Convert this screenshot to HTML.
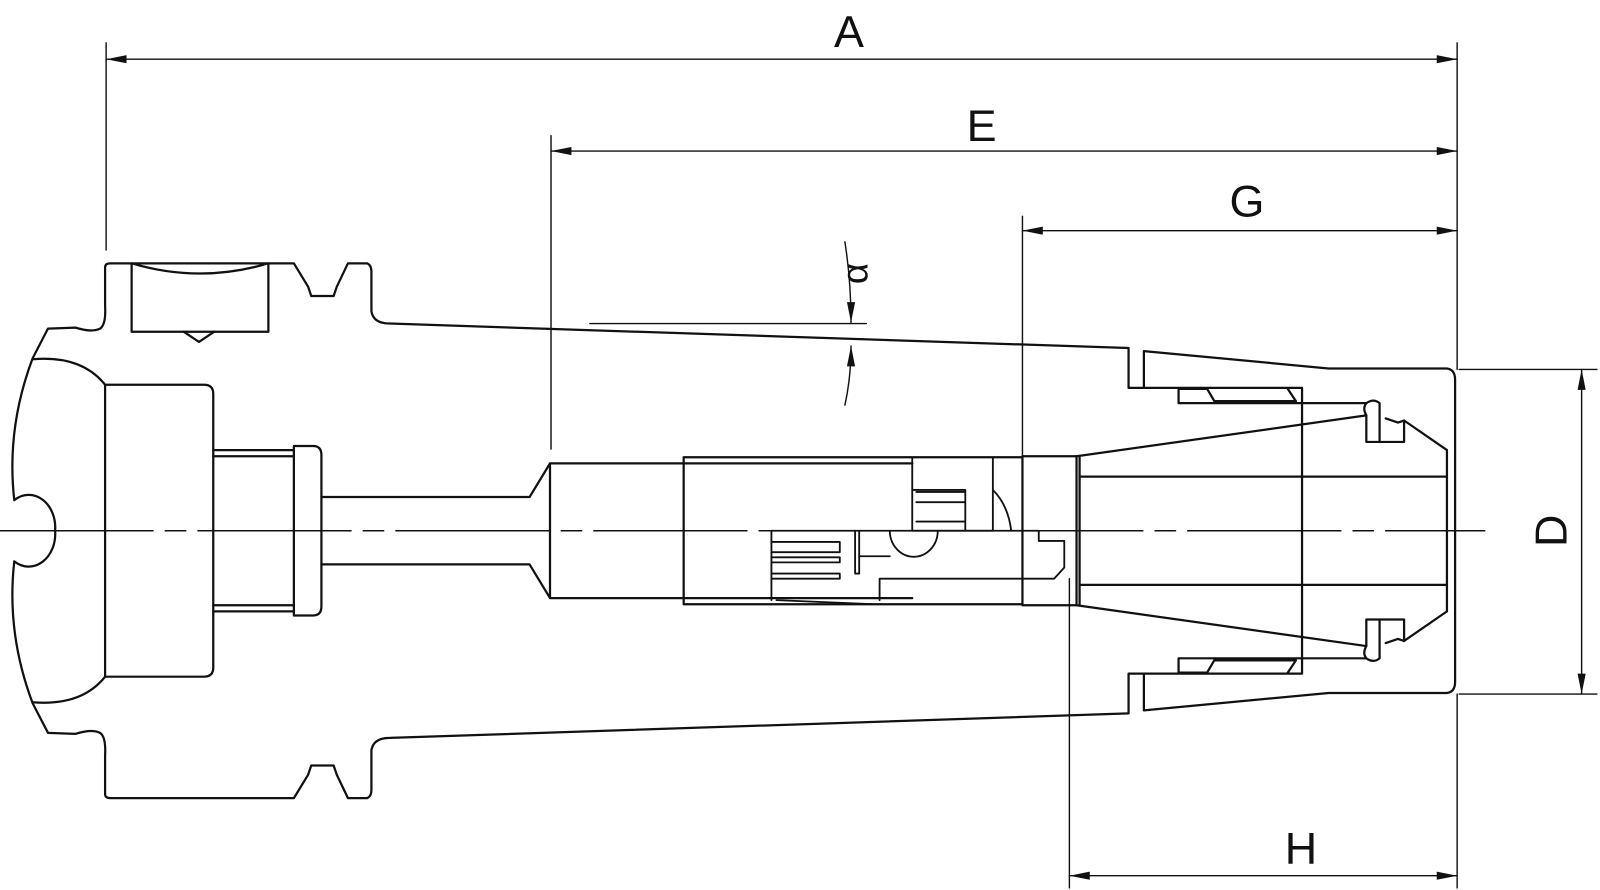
<!DOCTYPE html>
<html><head><meta charset="utf-8"><style>
html,body{margin:0;padding:0;background:#fff;}
svg{display:block;}
text{font-family:"Liberation Sans",sans-serif;fill:#111;}
</style></head><body>
<svg width="1600" height="890" viewBox="0 0 1568 872" preserveAspectRatio="none" xmlns="http://www.w3.org/2000/svg">
<defs>
<marker id="ar" viewBox="0 0 20 8" refX="20" refY="4" markerWidth="30" markerHeight="8" markerUnits="userSpaceOnUse" orient="auto-start-reverse">
<path d="M0,0 L20,4 L0,8 Z" fill="#111"/>
</marker>
</defs>
<g fill="none" stroke="#111" stroke-linecap="round" stroke-linejoin="round">
<line x1="0" y1="520" x2="1455" y2="520" stroke-width="1.5" stroke-dasharray="150,12,20,12"/>

<g stroke-width="1.4">
<line x1="104" y1="42" x2="104" y2="245"/>
<line x1="1428" y1="42" x2="1428" y2="362"/>
<line x1="104" y1="58" x2="1428" y2="58" marker-start="url(#ar)" marker-end="url(#ar)"/>
<line x1="540" y1="133" x2="540" y2="440"/>
<line x1="540" y1="148" x2="1428" y2="148" marker-start="url(#ar)" marker-end="url(#ar)"/>
<line x1="1002" y1="212" x2="1002" y2="447"/>
<line x1="1002" y1="226" x2="1428" y2="226" marker-start="url(#ar)" marker-end="url(#ar)"/>
<line x1="1430" y1="362" x2="1565" y2="362"/>
<line x1="1430" y1="680" x2="1565" y2="680"/>
<line x1="1550" y1="362" x2="1550" y2="680" marker-start="url(#ar)" marker-end="url(#ar)"/>
<line x1="1048" y1="567" x2="1048" y2="870"/>
<line x1="1428" y1="680" x2="1428" y2="870"/>
<line x1="1048" y1="858" x2="1428" y2="858" marker-start="url(#ar)" marker-end="url(#ar)"/>
<line x1="578" y1="317" x2="849" y2="317"/>
<path d="M828,237 Q834,275 834,316" marker-end="url(#ar)"/>
<path d="M828,397 Q834,370 834,339" marker-end="url(#ar)"/>
</g>

<g stroke-width="2.2" id="half">
<path d="M54,520 A26,32 0 0 0 14,490 Q6,420 32,351 L47,322 L74,321 Q90,326 98,322 Q104,318 103,300 L103,262 Q103,258 108,258 L288,258 L302,281 L305,290 L327,290 L330,281 L341,258 L360,258 Q364,260 364,266 L364,305 Q366,317 382,317 L1106,341 L1106,380 L1121,380 L1121,344 L1302,361 L1418,361 Q1426,362 1426,372 L1426,520"/>
<path d="M32,352 Q80,348 103,377"/>
<path d="M103,377 L103,520 M103,377 L200,377 Q209,377 209,386 L209,520"/>
<path d="M209,441 L288,441 M209,447 L288,447"/>
<path d="M288,520 L288,437 L307,437 Q315,437 315,446 L315,520"/>
<path d="M315,487 L519,487 L539,454 L539,520 M539,454 L670,454"/>
<path d="M670,520 L670,448 L1002,448 L1002,520 M670,454 L894,454"/>
<path d="M1002,447 L1055,447 L1055,520 M1058,448 L1058,520"/>
<path d="M1055,447 L1339,407"/>
<path d="M1058,467 L1418,467"/>
<path d="M1418,441 L1418,520"/>
<path d="M1121,380 L1276,380 L1276,520"/>
<path d="M1155,381 L1155,395 L1339,395 M1155,381 L1183,381 L1190,393 L1270,393 L1262,381"/>
<path d="M1339,407 Q1335,400 1339,395 Q1346,390 1352,395 L1352,433 L1376,433 L1376,412 L1370,414 L1358,410 M1339,407 L1339,433 L1352,433"/>
<path d="M1376,412 L1418,441"/>
</g>
<use href="#half" transform="matrix(1 0 0 -1 0 1040)"/>

<g stroke-width="2.2">
<path d="M129,258 L129,325 L263,325 L263,258 Q196,278 129,258 Z"/>
<path d="M180,325 L195,335 L210,325"/>
</g>

<g stroke-width="1.8">
<path d="M894,448 L894,520 L973,520 L973,448"/>
<path d="M894,480 L946,480 L946,520 M898,482 L946,482 M898,492 L946,492 M898,511 L946,511"/>
<path d="M973,480 Q988,495 991,520"/>
<path d="M756,520 L1018,520 L1018,530 L1043,530 L1043,556 L1033,567 L862,567 L862,588"/>
<path d="M756,520 L756,588 M761,588 L855,592"/>
<path d="M756,531 L823,531 L823,541 L756,541 M756,546 L823,546 L823,551 L756,551 M756,562 L823,562 L823,567 L756,567"/>
<path d="M838,520 L838,562 L842,562 L842,520"/>
<path d="M872,520 A23,25 0 0 0 919,520"/>
<path d="M842,545 L872,545"/>
</g>
</g>

<text x="832" y="46" font-size="44" text-anchor="middle">A</text>
<text x="962" y="138" font-size="44" text-anchor="middle">E</text>
<text x="1222" y="212" font-size="44" text-anchor="middle">G</text>
<text x="1275" y="846" font-size="44" text-anchor="middle">H</text>
<text x="0" y="0" font-size="44" text-anchor="middle" transform="translate(1535,520) rotate(-90)">D</text>
<text x="0" y="0" font-size="36" text-anchor="middle" transform="translate(850,268) rotate(-90)">α</text>
</svg>
</body></html>
